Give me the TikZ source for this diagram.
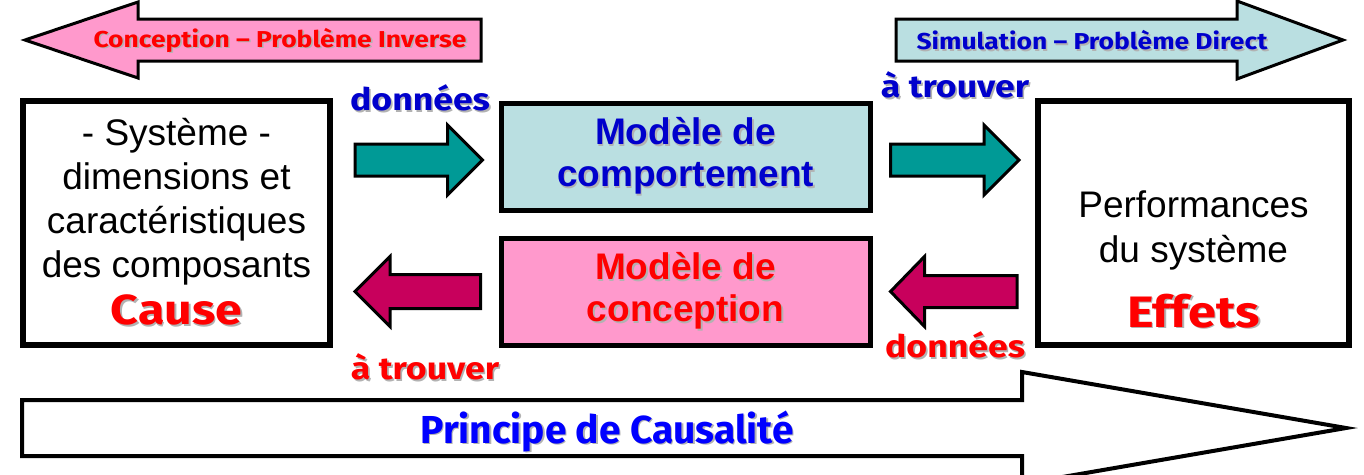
\documentclass[tikz,border=0pt]{standalone}
\usepackage{fontspec}
\setmainfont{Liberation Sans}
\newfontfamily\comicfont{Fira Sans}[FakeStretch=1.15]
\newfontfamily\tallfont{Fira Sans}
\usepackage{tikz}
\usetikzlibrary{
  calc,
  positioning
}

\definecolor{pinkfill}{HTML}{FF99CC}
\definecolor{cyanfill}{HTML}{BADFE1}
\definecolor{tealflow}{HTML}{009A96}
\definecolor{crimsonflow}{HTML}{C8005C}
\definecolor{textblue}{HTML}{0000CC}
\definecolor{textred}{HTML}{FF0000}

% text with a soft grey drop shadow
\newcommand{\shd}[1]{\leavevmode\rlap{\hspace{1.6pt}\raisebox{-1.6pt}{\textcolor{black!30}{#1}}}#1}

% horizontal block arrow: style, tail, tip, half shaft, half head, head length
\newcommand{\fatarrow}[6]{%
  \draw[#1] let \p1=(#2), \p2=(#3), \p3=($(#3)!#6!(#2)$) in
    (\x1,{\y1+#4}) -- (\x3,{\y1+#4}) -- (\x3,{\y1+#5}) -- (\x2,\y2)
    -- (\x3,{\y1-#5}) -- (\x3,{\y1-#4}) -- (\x1,{\y1-#4}) -- cycle;}

\tikzset{
  box/.style={draw, line width=6pt, align=center, inner sep=0pt},
  sysbox/.style={box, minimum width=307pt, minimum height=244pt,
    font=\fontsize{37}{44}\selectfont},
  modelbox/.style={box, line width=5pt, minimum width=369pt, minimum height=107pt,
    font=\bfseries\fontsize{37}{42}\selectfont},
  flow/.style={draw, line width=3pt, line join=miter},
  banner/.style={font=\comicfont\bfseries\fontsize{23}{26}\selectfont},
  tag/.style={font=\comicfont\bfseries\fontsize{31}{34}\selectfont},
  effect/.style={font=\comicfont\bfseries\fontsize{44}{46}\selectfont}
}

\begin{document}
\begin{tikzpicture}[x=1pt, y=-1pt]
\useasboundingbox (0,0) rectangle (1364,474);

% causality arrow
\coordinate (causeTail) at (22,428);
\coordinate (causeTip) at (1346,428);
\fatarrow{flow, line width=4pt, fill=white}{causeTail}{causeTip}{28pt}{56pt}{324pt}
\node[font=\tallfont\bfseries\fontsize{39}{42}\selectfont, text=blue] (caus) at (607,432)
  {\shd{Principe de Causalité}};

% banners
\coordinate (invTail) at (481,40);
\coordinate (invTip) at (25,40);
\fatarrow{flow, fill=pinkfill}{invTail}{invTip}{21pt}{38pt}{113pt}
\node[banner, text=textred] (inv) at (280,41) {\shd{Conception – Problème Inverse}};

\coordinate (dirTail) at (896,40);
\coordinate (dirTip) at (1343,40);
\fatarrow{flow, fill=cyanfill}{dirTail}{dirTip}{21pt}{39pt}{106pt}
\node[banner, text=textblue] (dir) at (1092,41) {\shd{Simulation – Problème Direct}};

% boxes
\node[sysbox] (sys) at (176.5,223)
  {- Système -\\dimensions et\\caractéristiques\\des composants\\[3pt]
   {\comicfont\bfseries\fontsize{42}{46}\selectfont\color{textred}\shd{Cause}}};
\node[modelbox, fill=cyanfill, text=textblue] (comp) at (685.5,156.5)
  {\shd{Modèle de}\\\shd{comportement}};
\node[modelbox, fill=pinkfill, text=textred] (conc) at (685.5,291.5)
  {\shd{Modèle de}\\\shd{conception}};
\node[sysbox, minimum width=311pt] (perf) at (1193.5,223) {};
\node[font=\fontsize{37}{45}\selectfont, align=center] (perftxt) at ([yshift=-37pt]perf.center)
  {Performances\\du système\\[20pt]{\comicfont\bfseries\fontsize{44}{46}\selectfont\color{textred}\shd{Effets}}};

% flows
\coordinate (fwdA) at ($(sys.east |- comp.center)+(22,3.5)$);
\coordinate (fwdB) at ($(comp.west)+(-16,3.5)$);
\coordinate (fwdC) at ($(comp.east)+(18,3.5)$);
\coordinate (fwdD) at ($(perf.west |- comp.center)+(-16,3.5)$);
\coordinate (bckA) at ($(perf.west |- conc.center)+(-18,0)$);
\coordinate (bckB) at ($(conc.east)+(18,0)$);
\coordinate (bckC) at ($(conc.west)+(-18,0)$);
\coordinate (bckD) at ($(sys.east |- conc.center)+(22,0)$);

\fatarrow{flow, fill=tealflow}{fwdA}{fwdB}{16pt}{35pt}{35pt}
\fatarrow{flow, fill=tealflow}{fwdC}{fwdD}{16pt}{35pt}{35pt}
\fatarrow{flow, fill=crimsonflow}{bckA}{bckB}{16pt}{35pt}{34pt}
\fatarrow{flow, fill=crimsonflow}{bckC}{bckD}{17pt}{35pt}{35pt}

% flow labels
\node[tag, text=textblue] (givenA) at (420,99) {\shd{données}};
\node[tag, text=textblue] (soughtA) at (955,86) {\shd{à trouver}};
\node[tag, text=textred] (givenB) at (955,346) {\shd{données}};
\node[tag, text=textred] (soughtB) at (425,368) {\shd{à trouver}};
\end{tikzpicture}
\end{document}
